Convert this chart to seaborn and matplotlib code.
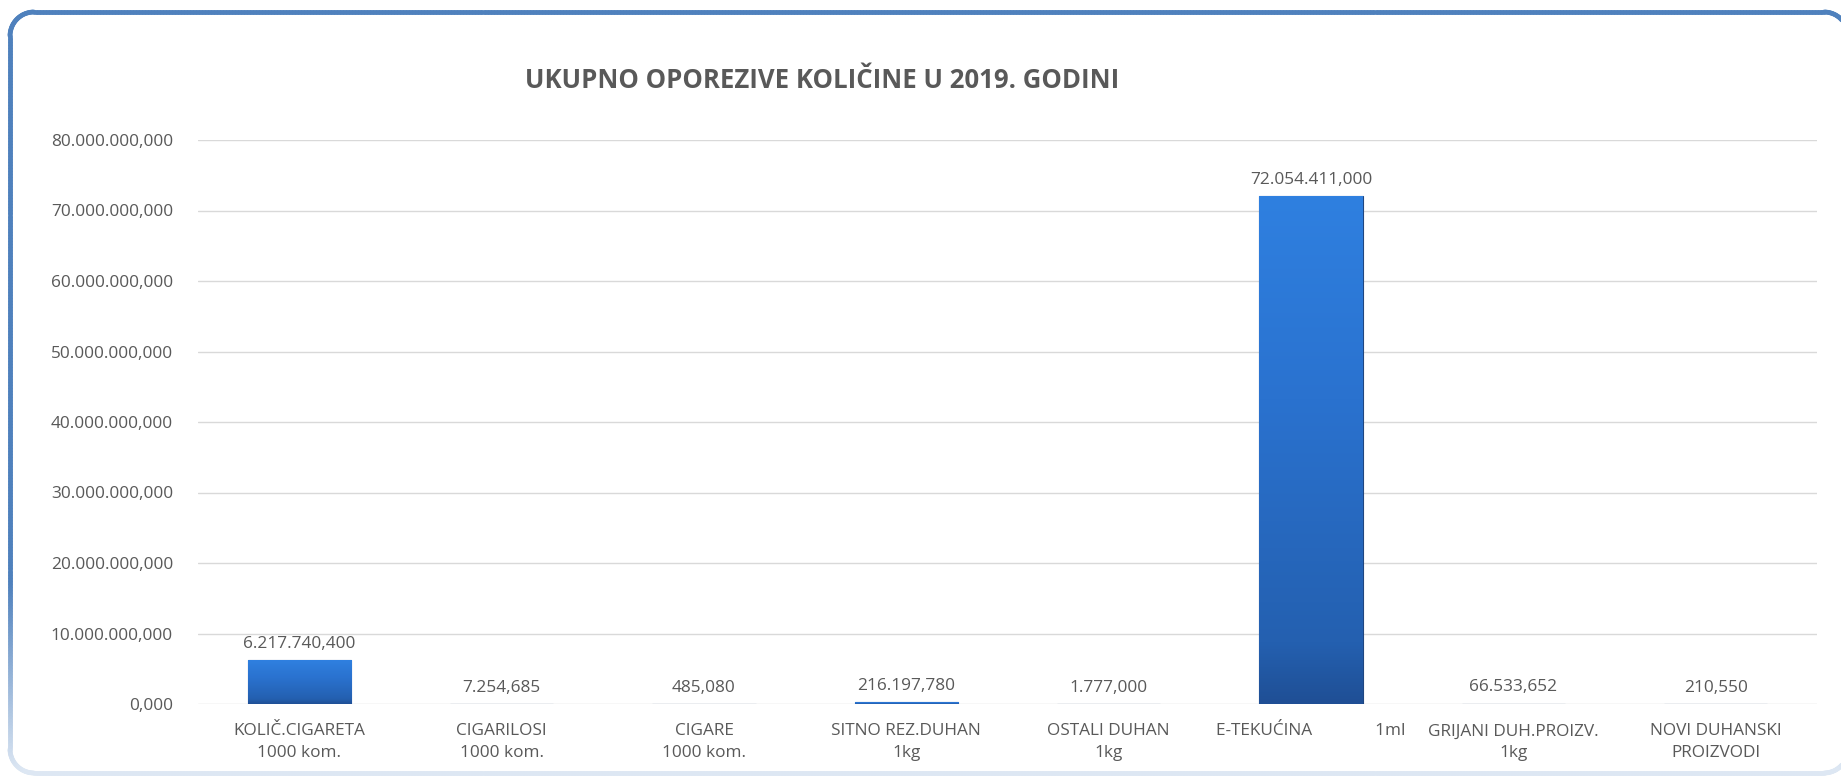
import numpy as np
import pandas as pd
import matplotlib
matplotlib.use("Agg")
import matplotlib.pyplot as plt
import seaborn as sns
from matplotlib.collections import LineCollection
from matplotlib.colors import LinearSegmentedColormap, to_rgb

# ---- data ----
categories = [
    "KOLIČ.CIGARETA\n1000 kom.",
    "CIGARILOSI\n1000 kom.",
    "CIGARE\n1000 kom.",
    "SITNO REZ.DUHAN\n1kg",
    "OSTALI DUHAN\n1kg",
    "E-TEKUĆINA              1ml",
    "GRIJANI DUH.PROIZV.\n1kg",
    "NOVI DUHANSKI\nPROIZVODI",
]
values = [6217740.400, 7254.685, 485.080, 216197.780, 1777.000,
          72054411.000, 66533.652, 210.550]
yticks = [0, 10e6, 20e6, 30e6, 40e6, 50e6, 60e6, 70e6, 80e6]
title = "UKUPNO OPOREZIVE KOLIČINE U 2019. GODINI"

TXT = "#595959"
W, H = 1841, 776


def fmt(v):
    s = f"{v:,.3f}"
    return s.replace(",", "X").replace(".", ",").replace("X", ".")


sns.set_theme(style="white")
plt.rcParams["font.family"] = ["Open Sans", "DejaVu Sans"]

fig = plt.figure(figsize=(W / 100, H / 100), dpi=100)
fig.patch.set_facecolor("white")
ax = fig.add_axes([198 / W, 1 - 704 / H, (1817 - 198) / W, (704 - 140) / H])

df = pd.DataFrame({"cat": categories, "val": values})
sns.barplot(data=df, x="cat", y="val", ax=ax, width=0.51, color="#2A6FC9",
            edgecolor="#1F4680", linewidth=0.8, saturation=1, zorder=3)

ax.set_ylim(0, 80e6)
ax.set_yticks(yticks)
ax.set_yticklabels([fmt(v) for v in yticks], color=TXT, fontsize=12.4)
ax.tick_params(axis="y", length=0, pad=18)
ax.tick_params(axis="x", length=0, pad=14, labelsize=12.4, labelcolor=TXT)
ax.set_xlabel("")
ax.set_ylabel("")
for s in ax.spines.values():
    s.set_visible(False)
ax.yaxis.grid(True, color="#D9D9D9", linewidth=1.0, zorder=0)
ax.set_axisbelow(True)
for lbl in ax.get_xticklabels():
    lbl.set_linespacing(1.45)

# gradient fill clipped to each bar
cmap = LinearSegmentedColormap.from_list(
    "g", [(0, "#1F4F95"), (0.12, "#2460B0"), (0.6, "#2A72CF"), (1, "#2F80E0")])
grad = np.linspace(0, 1, 256).reshape(-1, 1)
for p, v in zip(ax.patches, values):
    x0, y0 = p.get_x(), p.get_y()
    w, h = p.get_width(), p.get_height()
    im = ax.imshow(grad, cmap=cmap, aspect="auto", origin="lower",
                   extent=[x0, x0 + w, y0, y0 + h], zorder=3.5,
                   interpolation="bilinear")
    im.set_clip_path(p)
    ax.annotate(fmt(v), (x0 + w / 2, y0 + h), xytext=(0, 6),
                textcoords="offset points", ha="center", va="bottom",
                fontsize=12.4, color=TXT, zorder=5)
ax.set_xlim(-0.5, len(categories) - 0.5)
ax.set_ylim(0, 80e6)

fig.text(822 / W, 1 - 81 / H, title, ha="center", va="center",
         fontsize=18.5, fontweight="bold", color=TXT)

# rounded frame with fading colour (pixel coords, y from top)
bx0, by0, bx1, by1, r = 10, 12, 1848, 773, 24
pts = []


def arc(cx, cy, a0, a1):
    for a in np.linspace(a0, a1, 30):
        pts.append((cx + r * np.cos(a), cy + r * np.sin(a)))


# y grows downward here
arc(bx0 + r, by0 + r, np.pi, 1.5 * np.pi)          # top-left
arc(bx1 - r, by0 + r, 1.5 * np.pi, 2 * np.pi)      # top-right
arc(bx1 - r, by1 - r, 0, 0.5 * np.pi)              # bottom-right
arc(bx0 + r, by1 - r, 0.5 * np.pi, np.pi)          # bottom-left
pts.append(pts[0])
pts = np.array(pts)
dense = []
for i in range(len(pts) - 1):
    a, b = pts[i], pts[i + 1]
    n = max(1, int(np.hypot(*(b - a)) / 3))
    for t in np.linspace(0, 1, n, endpoint=False):
        dense.append(a + (b - a) * t)
dense.append(pts[-1])
dense = np.array(dense)
segs = np.stack([dense[:-1], dense[1:]], axis=1)
blue = np.array(to_rgb("#4F81BD"))
light = np.array(to_rgb("#DDE7F3"))
cols = []
for s in segs:
    ym = s[:, 1].mean()
    t = np.clip((ym - 580) / (770 - 580), 0, 1)
    cols.append(blue * (1 - t) + light * t)
segs_fig = segs.copy()
segs_fig[:, :, 0] = segs[:, :, 0] / W
segs_fig[:, :, 1] = 1 - segs[:, :, 1] / H
lc = LineCollection(segs_fig, colors=cols, linewidths=3.4,
                    transform=fig.transFigure, capstyle="round")
fig.add_artist(lc)

fig.savefig("out.png", dpi=100, facecolor="white")
